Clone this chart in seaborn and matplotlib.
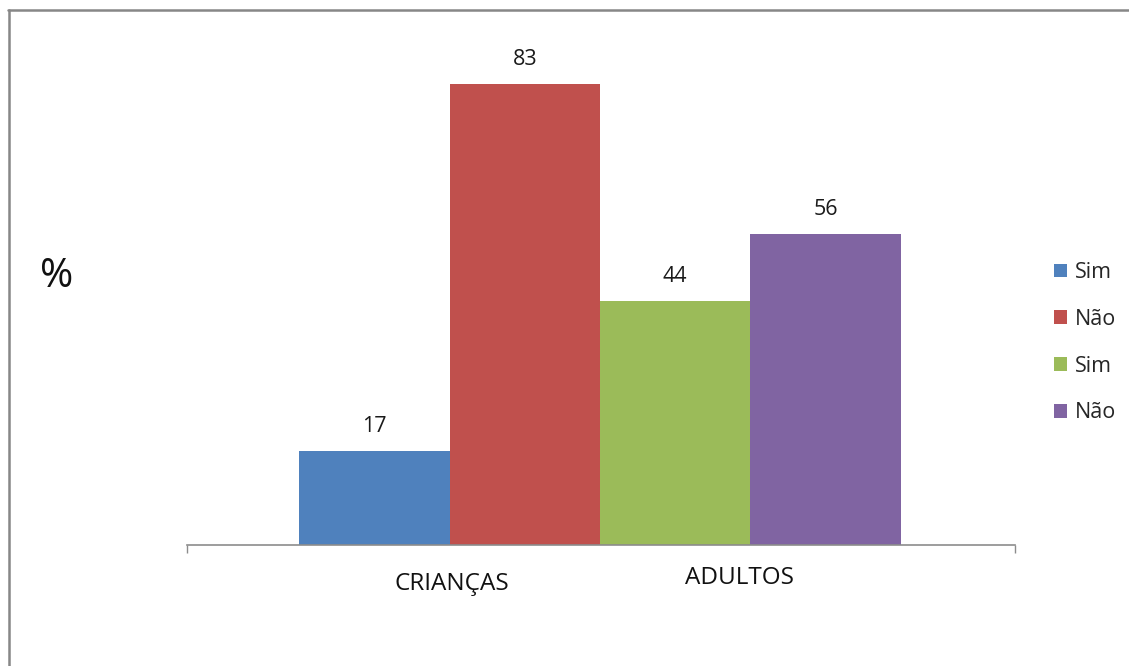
import matplotlib
matplotlib.use("Agg")
import matplotlib.pyplot as plt
from matplotlib.lines import Line2D
from matplotlib.patches import Patch
import seaborn as sns
import pandas as pd

# Survey answers (percent) for children and adults
grupos = ["CRIANÇAS", "CRIANÇAS", "ADULTOS", "ADULTOS"]
respostas = ["Sim", "Não", "Sim", "Não"]
percentuais = [17, 83, 44, 56]
cores = ["#4F81BD", "#C0504D", "#9BBB59", "#8064A2"]
rotulos_categoria = ["CRIANÇAS", "ADULTOS"]

sns.set_theme(style="white")
plt.rcParams["font.family"] = ["Open Sans", "DejaVu Sans"]

df = pd.DataFrame({"grupo": grupos, "resposta": respostas, "pct": percentuais})
df["barra"] = [f"{g}-{r}" for g, r in zip(grupos, respostas)]
ordem = list(df["barra"])

fig = plt.figure(figsize=(11.29, 6.66), dpi=100)
ax = fig.add_axes([187 / 1129, 1 - 545 / 666, (1015 - 187) / 1129, 500 / 666])

sns.barplot(data=df, x="barra", y="pct", hue="barra", order=ordem, hue_order=ordem,
            palette=cores, width=1.0, saturation=1, legend=False, ax=ax,
            edgecolor="none", linewidth=0)

for cont in ax.containers:
    ax.bar_label(cont, fmt="%d", padding=10, fontsize=15.5, color="#1a1a1a")

ax.set_ylim(0, 90)
x_left, x_right = -1.246, 4.259
ax.set_xlim(x_left, x_right)
ax.set_xlabel("")
ax.set_ylabel("")
ax.set_yticks([])
ax.set_xticks([x_left, x_right])
ax.set_xticklabels(["", ""])
ax.tick_params(axis="x", direction="out", length=6, width=1, color="#8c8c8c", bottom=True)
for s in ["top", "right", "left"]:
    ax.spines[s].set_visible(False)
ax.spines["bottom"].set_color("#8c8c8c")
ax.spines["bottom"].set_linewidth(1.2)

# Category names under the bars
tr = ax.get_xaxis_transform()
ax.text(0.515, -39 / 500, rotulos_categoria[0], transform=tr, ha="center", va="center",
        fontsize=17.5, color="#111111")
ax.text(2.43, -33 / 500, rotulos_categoria[1], transform=tr, ha="center", va="center",
        fontsize=17.5, color="#111111")

# Y axis symbol
fig.text(57 / 1129, 1 - 277 / 666, "%", ha="center", va="center", fontsize=29, color="#111111")

# Legend
handles = [Patch(facecolor=c, edgecolor="none") for c in cores]
fig.legend(handles, respostas, loc="upper left", bbox_to_anchor=(1054 / 1129, 1 - 262 / 666),
           frameon=False, fontsize=15.5, handlelength=0.6, handleheight=0.6,
           handletextpad=0.35, labelspacing=1.2, borderaxespad=0, borderpad=0)

# Outer chart frame (top and left edges)
fig.add_artist(Line2D([8 / 1129, 1.0], [1 - 9.5 / 666, 1 - 9.5 / 666], transform=fig.transFigure,
                      color="#878787", linewidth=1.8))
fig.add_artist(Line2D([8.5 / 1129, 8.5 / 1129], [0, 1 - 9.5 / 666], transform=fig.transFigure,
                      color="#878787", linewidth=1.8))

fig.savefig("out.png", dpi=100)
